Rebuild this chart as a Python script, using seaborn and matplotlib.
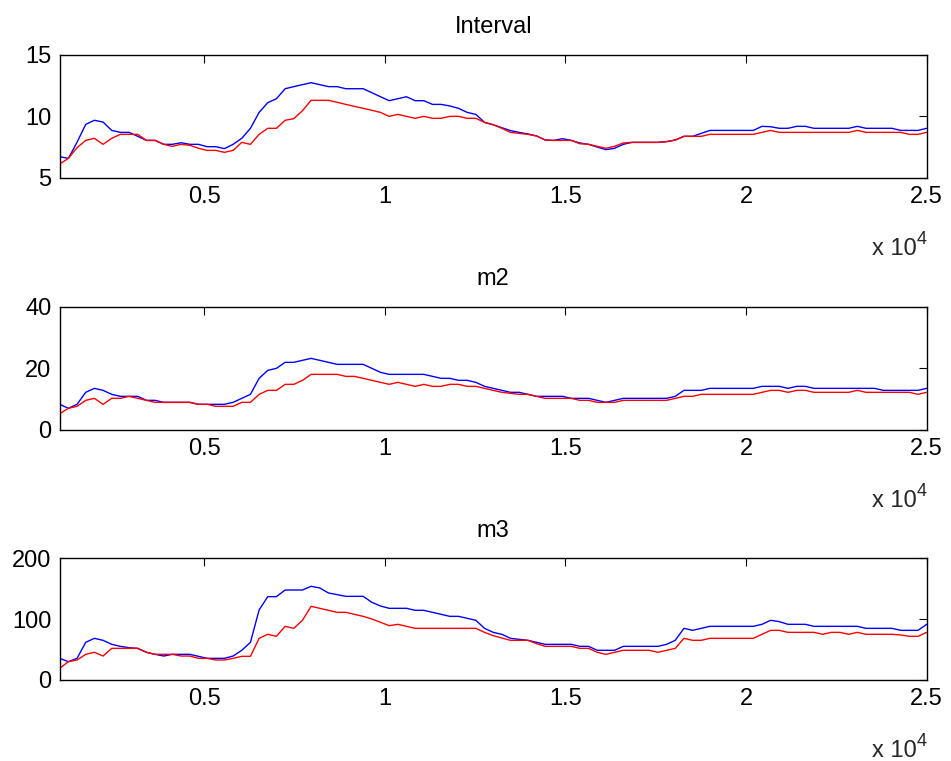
import numpy as np
import pandas as pd
import matplotlib
matplotlib.use("Agg")
import matplotlib.pyplot as plt
import seaborn as sns

# ---------------- data ----------------
x_start, x_stop, x_step = 1000, 25000, 240
x_values = np.arange(x_start, x_stop + 1, x_step)

titles = ["Interval", "m2", "m3"]

interval_blue = [6.73, 6.59, 7.9, 9.35, 9.68, 9.54, 8.86, 8.70, 8.70, 8.38,
                 8.05, 8.05, 7.73, 7.73, 7.86, 7.73, 7.73, 7.54, 7.54, 7.38,
                 7.73, 8.22, 9.03, 10.32, 11.11, 11.43, 12.24, 12.41, 12.57, 12.73,
                 12.57, 12.41, 12.41, 12.24, 12.24, 12.24, 11.92, 11.59, 11.27, 11.43,
                 11.59, 11.27, 11.27, 10.97, 10.97, 10.84, 10.65, 10.32, 10.16, 9.51,
                 9.32, 9.08, 8.84, 8.70, 8.57, 8.41, 8.08, 8.05, 8.19, 8.05,
                 7.84, 7.73, 7.51, 7.30, 7.41, 7.73, 7.89, 7.89, 7.89, 7.89,
                 7.95, 8.08, 8.38, 8.38, 8.62, 8.86, 8.86, 8.86, 8.86, 8.86,
                 8.86, 9.19, 9.16, 9.03, 9.03, 9.19, 9.19, 9.03, 9.03, 9.03,
                 9.03, 9.03, 9.19, 9.03, 9.03, 9.03, 9.03, 8.86, 8.86, 8.86,
                 9.03]
interval_red = [6.14, 6.59, 7.46, 8.05, 8.22, 7.73, 8.22, 8.54, 8.54, 8.54,
                8.05, 8.05, 7.73, 7.57, 7.73, 7.65, 7.41, 7.24, 7.24, 7.08,
                7.24, 7.89, 7.73, 8.54, 9.03, 9.03, 9.68, 9.81, 10.46, 11.30,
                11.30, 11.30, 11.14, 10.97, 10.81, 10.65, 10.49, 10.32, 10.0, 10.16,
                10.0, 9.84, 10.0, 9.84, 9.84, 10.0, 10.0, 9.84, 9.84, 9.51,
                9.32, 9.03, 8.70, 8.62, 8.54, 8.41, 8.08, 8.05, 8.05, 8.05,
                7.78, 7.73, 7.57, 7.41, 7.57, 7.84, 7.89, 7.89, 7.89, 7.89,
                7.95, 8.08, 8.38, 8.38, 8.38, 8.54, 8.54, 8.54, 8.54, 8.54,
                8.54, 8.70, 8.86, 8.70, 8.70, 8.70, 8.70, 8.70, 8.70, 8.70,
                8.70, 8.70, 8.86, 8.70, 8.70, 8.70, 8.70, 8.70, 8.54, 8.54,
                8.70]

m2_blue = [8.33, 7.03, 8.33, 12.22, 13.51, 12.86, 11.57, 10.92, 10.92, 10.92,
           9.62, 9.62, 8.97, 8.97, 8.97, 8.97, 8.33, 8.33, 8.33, 8.33,
           8.97, 10.27, 11.57, 16.76, 19.35, 20.0, 21.95, 21.95, 22.6, 23.24,
           22.6, 21.95, 21.3, 21.3, 21.3, 21.3, 20.0, 18.7, 18.05, 18.05,
           18.05, 18.05, 18.05, 17.4, 16.76, 16.76, 16.11, 16.11, 15.46, 14.16,
           13.51, 12.86, 12.22, 12.22, 11.57, 10.92, 10.92, 10.92, 10.92, 10.27,
           10.27, 10.27, 9.62, 8.97, 9.62, 10.27, 10.27, 10.27, 10.27, 10.27,
           10.27, 10.92, 12.86, 12.86, 12.86, 13.51, 13.51, 13.51, 13.51, 13.51,
           13.51, 14.16, 14.16, 14.16, 13.51, 14.16, 14.16, 13.51, 13.51, 13.51,
           13.51, 13.51, 13.51, 13.51, 13.51, 12.86, 12.86, 12.86, 12.86, 12.86,
           13.51]
m2_red = [5.30, 7.03, 7.68, 9.62, 10.27, 8.33, 10.27, 10.27, 10.92, 10.27,
          9.62, 8.97, 8.97, 8.97, 8.97, 8.97, 8.33, 8.33, 7.68, 7.68,
          7.68, 8.97, 8.97, 11.57, 12.86, 12.86, 14.81, 14.81, 16.11, 18.05,
          18.05, 18.05, 18.05, 17.4, 17.4, 16.76, 16.11, 15.46, 14.81, 15.46,
          14.81, 14.16, 14.81, 14.16, 14.16, 14.81, 14.81, 14.16, 14.16, 13.51,
          12.86, 12.22, 11.9, 11.57, 11.57, 10.92, 10.27, 10.27, 10.27, 10.27,
          9.62, 9.62, 8.97, 8.97, 8.97, 9.62, 9.62, 9.62, 9.62, 9.62,
          9.62, 10.27, 10.92, 10.92, 11.57, 11.57, 11.57, 11.57, 11.57, 11.57,
          11.57, 12.22, 12.86, 12.86, 12.22, 12.86, 12.86, 12.22, 12.22, 12.22,
          12.22, 12.22, 12.86, 12.22, 12.22, 12.22, 12.22, 12.22, 12.22, 11.57,
          12.22]

m3_blue = [35.6, 30.1, 35.6, 61.9, 68.5, 65.2, 58.6, 55.3, 53.1, 52.0,
           45.5, 42.2, 39.4, 42.2, 42.2, 42.2, 38.9, 35.6, 35.6, 35.6,
           39.4, 48.8, 61.9, 115.1, 137.0, 137.0, 147.9, 147.9, 147.9, 154.0,
           151.2, 143.0, 140.3, 137.5, 137.5, 137.5, 127.7, 121.6, 117.8, 117.8,
           117.8, 114.5, 114.5, 111.2, 107.9, 104.6, 104.6, 101.4, 98.1, 84.9,
           78.3, 75.1, 68.5, 66.8, 65.2, 61.9, 58.6, 58.6, 58.6, 58.6,
           55.3, 55.3, 48.8, 48.8, 48.8, 55.3, 55.3, 55.3, 55.3, 55.3,
           58.6, 65.2, 84.9, 81.6, 84.9, 88.2, 88.2, 88.2, 88.2, 88.2,
           88.2, 91.5, 98.1, 95.9, 91.5, 91.5, 91.5, 88.2, 88.2, 88.2,
           88.2, 88.2, 88.2, 84.9, 84.9, 84.9, 84.9, 81.6, 81.6, 81.6,
           91.5]
m3_red = [19.2, 30.1, 32.9, 42.2, 45.5, 39.4, 52.0, 52.0, 52.0, 52.0,
          45.5, 42.2, 42.2, 42.2, 39.4, 39.4, 35.6, 35.6, 32.9, 32.9,
          35.6, 38.9, 38.9, 68.5, 75.1, 71.8, 88.2, 84.9, 98.1, 121.1,
          117.8, 114.5, 111.2, 111.2, 107.9, 104.6, 100.3, 94.8, 89.3, 91.5,
          88.2, 84.9, 84.9, 84.9, 84.9, 84.9, 84.9, 84.9, 84.9, 78.3,
          72.9, 69.0, 65.2, 65.2, 65.2, 59.7, 55.3, 55.3, 55.3, 55.3,
          52.0, 52.0, 45.5, 42.2, 45.5, 48.8, 48.8, 48.8, 48.8, 45.5,
          48.8, 52.0, 68.5, 65.2, 65.2, 68.5, 68.5, 68.5, 68.5, 68.5,
          68.5, 75.1, 81.6, 81.6, 78.3, 78.3, 78.3, 78.3, 75.1, 78.3,
          78.3, 75.1, 78.3, 75.1, 75.1, 75.1, 75.1, 74.0, 71.8, 71.8,
          78.3]

x_ticks = [5000, 10000, 15000, 20000, 25000]
x_tick_labels = ["0.5", "1", "1.5", "2", "2.5"]
y_ticks = [[5, 10, 15], [0, 20, 40], [0, 100, 200]]
y_limits = [(5, 15), (0, 40), (0, 200)]
exponent_base = "x 10"
exponent_power = "4"

series = [(interval_blue, interval_red), (m2_blue, m2_red), (m3_blue, m3_red)]

# ---------------- style ----------------
sns.set_style("white")
plt.rcParams["font.family"] = ["Liberation Sans", "DejaVu Sans"]

fig = plt.figure(figsize=(9.51, 7.61), dpi=100)
fig.patch.set_facecolor("white")

W, H = 951, 761
left_px, right_px = 59.7, 926.7
panel_tb = [(54.7, 178.0), (306.7, 430.0), (558.3, 680.0)]

for i, (title, (blue, red)) in enumerate(zip(titles, series)):
    top, bot = panel_tb[i]
    ax = fig.add_axes([left_px / W, 1 - bot / H, (right_px - left_px) / W, (bot - top) / H])
    df = pd.DataFrame({"x": x_values, "blue": blue, "red": red})
    sns.lineplot(data=df, x="x", y="blue", ax=ax, color=(0, 0, 1), lw=1.0)
    sns.lineplot(data=df, x="x", y="red", ax=ax, color=(1, 0, 0), lw=1.0)
    ax.set_xlim(x_start, x_stop)
    ax.set_ylim(*y_limits[i])
    ax.set_xticks(x_ticks)
    ax.set_xticklabels(x_tick_labels)
    ax.set_yticks(y_ticks[i])
    ax.set_yticklabels([str(v) for v in y_ticks[i]])
    ax.set_xlabel("")
    ax.set_ylabel("")
    ax.tick_params(direction="in", length=6, width=0.8, labelsize=17,
                   top=True, right=True, colors="black", pad=6)
    for sp in ax.spines.values():
        sp.set_visible(True)
        sp.set_color("black")
        sp.set_linewidth(1.0)
    ax.set_title(title, fontsize=17, pad=15.5, color="black")
    # "x 10^4" exponent note under the right end of the x axis
    ax.annotate(exponent_power, xy=(1.0, 0.0), xycoords="axes fraction",
                xytext=(0, -47.5), textcoords="offset points",
                ha="right", va="baseline", fontsize=13)
    ax.annotate(exponent_base, xy=(1.0, 0.0), xycoords="axes fraction",
                xytext=(-7.5, -55.5), textcoords="offset points",
                ha="right", va="baseline", fontsize=17)
    ax.set_facecolor("white")

fig.savefig("out.png", dpi=100, facecolor="white")
